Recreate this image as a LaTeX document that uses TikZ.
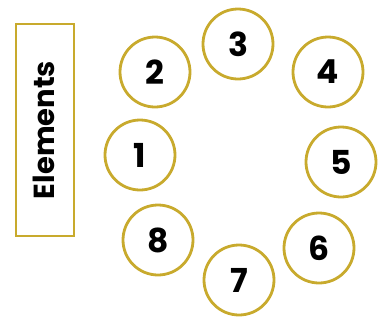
\documentclass[tikz,border=0pt]{standalone}
\usepackage{fontspec}
\setmainfont{Poppins}
\definecolor{gold}{RGB}{200,170,45}
\begin{document}
\begin{tikzpicture}[x=1pt,y=-1pt,
  elem/.style={circle,draw=gold,line width=2.8pt,minimum size=70pt,inner sep=0pt,font=\fontsize{33}{33}\selectfont\bfseries},
  labelbox/.style={draw=gold,line width=2.8pt,minimum width=58pt,minimum height=212pt,inner sep=0pt}]
\useasboundingbox (0,0) rectangle (384,325);
\node[labelbox] (box) at (45,130) {};
\node[rotate=90,font=\fontsize{29}{29}\selectfont\bfseries] (lbl) at (44,130) {Elements};
\node[elem] (n1) at (140,155) {1};
\node[elem] (n2) at (155,72) {2};
\node[elem] (n3) at (238,44) {3};
\node[elem] (n4) at (328,72) {4};
\node[elem] (n5) at (341,162) {5};
\node[elem] (n6) at (319,248) {6};
\node[elem] (n7) at (239,280) {7};
\node[elem] (n8) at (158,240) {8};
\end{tikzpicture}
\end{document}
